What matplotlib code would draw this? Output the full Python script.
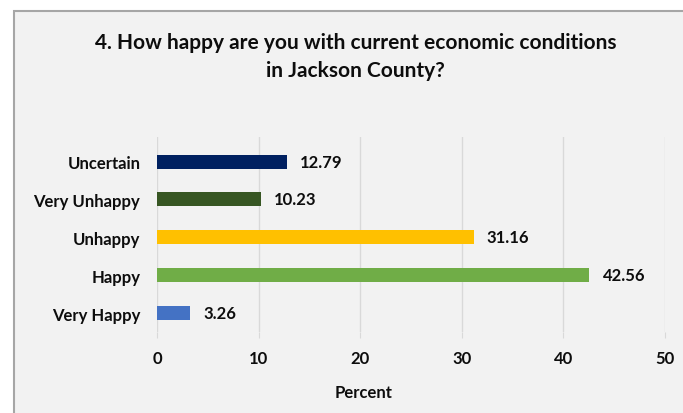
import matplotlib.pyplot as plt
from matplotlib.patches import Rectangle

categories = ["Very Happy", "Happy", "Unhappy", "Very Unhappy", "Uncertain"]
values = [3.26, 42.56, 31.16, 10.23, 12.79]
colors = ["#4472C4", "#70AD47", "#FFC000", "#375623", "#002060"]
ticks = [0, 10, 20, 30, 40, 50]

plt.rcParams['font.family'] = ['Lato', 'DejaVu Sans']

W, H = 683, 414
fig = plt.figure(figsize=(W / 100, H / 100), dpi=100)
fig.patch.set_facecolor("white")

# gray chart panel with a border on top and left (cut off at right/bottom)
fig.patches.append(Rectangle((14 / W, -0.01), 1.0, 1 - 12 / H + 0.01,
                             transform=fig.transFigure, facecolor="#f2f2f2",
                             edgecolor="#a6a6a6", linewidth=1.5, zorder=-10))

ax = fig.add_axes([157 / W, 1 - 333 / H, (665 - 157) / W, (333 - 138) / H])
ax.set_zorder(5)
ax.set_facecolor("none")

txt = "#0d0d0d"
y = range(len(categories))
ax.barh(y, values, height=0.37, color=colors, zorder=3)
for i, v in enumerate(values):
    ax.text(v + 1.3, i, f"{v:.2f}", va="center", ha="left",
            fontsize=12, fontweight="bold", color=txt)

ax.set_xlim(0, 50)
ax.set_ylim(-0.5, 4.65)
ax.set_xticks(ticks)
ax.set_yticks(list(y))
ax.set_yticklabels(categories, fontsize=12, fontweight="bold", color=txt)
ax.tick_params(axis="y", length=0, pad=12)
ax.tick_params(axis="x", length=4, color="#d9d9d9", labelsize=12, pad=9,
               labelcolor=txt)
for lbl in ax.get_xticklabels():
    lbl.set_fontweight("bold")
ax.grid(axis="x", color="#d9d9d9", linewidth=1, zorder=0)
for s in ax.spines.values():
    s.set_visible(False)

ax.set_xlabel("Percent", fontsize=12, fontweight="bold", color=txt)
ax.xaxis.set_label_coords((364 - 157) / 508, -0.265)

fig.text(0.5 * (14 / W + 1) + 0.01, 1 - 57 / H,
         "4. How happy are you with current economic conditions\nin Jackson County?",
         ha="center", va="center", fontsize=15, fontweight="bold",
         color=txt, linespacing=1.45, zorder=6)

fig.savefig("out.png", dpi=100, facecolor=fig.get_facecolor())
